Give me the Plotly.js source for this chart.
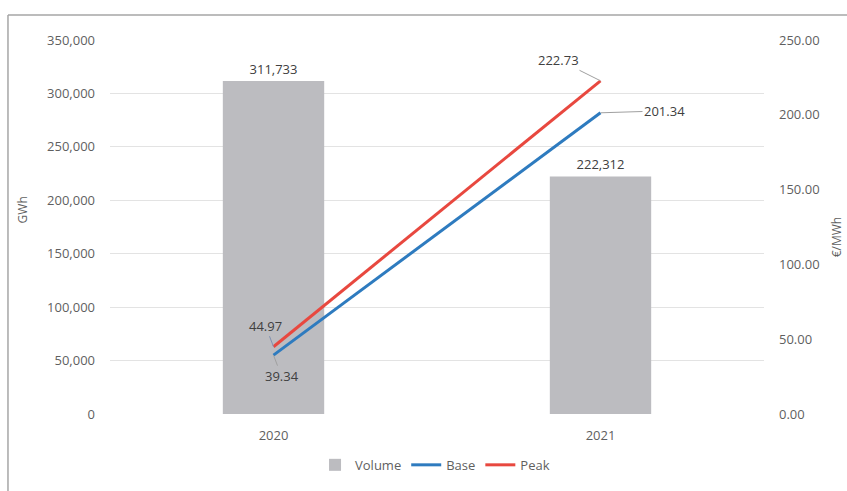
<!DOCTYPE html>
<html>
<head>
<meta charset="utf-8">
<script src="https://cdn.plot.ly/plotly-3.0.1.min.js"></script>
<style>html,body{margin:0;padding:0;background:#fff;}#chart{width:847px;height:491px;}</style>
</head>
<body>
<div id="chart"></div>
<script>
const years = ['2020', '2021'];
const volume = [311733, 222312];
const base = [39.34, 201.34];
const peak = [44.97, 222.73];
const volumeLabels = ['311,733', '222,312'];

const fontFam = '"Open Sans", "Noto Sans", "DejaVu Sans", sans-serif';
const axisColor = '#5f5f5f';
const fs = 13;

const traces = [
  {type: 'bar', name: 'Volume', x: years, y: volume, marker: {color: '#bcbcc0'},
   text: volumeLabels, textposition: 'outside', cliponaxis: false,
   textfont: {family: fontFam, size: fs, color: '#404040'}, hoverinfo: 'none'},
  {type: 'scatter', mode: 'lines', name: 'Base', x: years, y: base, yaxis: 'y2',
   line: {color: '#2e7bbf', width: 3}},
  {type: 'scatter', mode: 'lines', name: 'Peak', x: years, y: peak, yaxis: 'y2',
   line: {color: '#e8483f', width: 3}}
];

const annFont = {family: fontFam, size: fs, color: '#404040'};
const titleFont = {family: fontFam, size: 12, color: axisColor};
// category index positions (0 = first year, 1 = second year)
const annotations = [
  {x: 1, y: peak[1], xref: 'x', yref: 'y2', text: peak[1].toFixed(2), showarrow: true,
   arrowhead: 0, arrowwidth: 1, arrowcolor: '#a0a0a0', ax: -42, ay: -21, font: annFont},
  {x: 1, y: base[1], xref: 'x', yref: 'y2', text: base[1].toFixed(2), showarrow: true,
   arrowhead: 0, arrowwidth: 1, arrowcolor: '#a0a0a0', ax: 64, ay: -2, font: annFont},
  {x: 0, y: peak[0], xref: 'x', yref: 'y2', text: peak[0].toFixed(2), showarrow: true,
   arrowhead: 0, arrowwidth: 1, arrowcolor: '#8090b0', ax: -8, ay: -21, font: annFont},
  {x: 0, y: base[0], xref: 'x', yref: 'y2', text: base[0].toFixed(2), showarrow: true,
   arrowhead: 0, arrowwidth: 1, arrowcolor: '#a0a0a0', ax: 8, ay: 21, font: annFont},
  {x: -0.1346, y: 0.547, xref: 'paper', yref: 'paper', text: 'GWh', showarrow: false,
   textangle: -90, font: titleFont, xanchor: 'center', yanchor: 'middle'},
  {x: 1.110, y: 0.475, xref: 'paper', yref: 'paper', text: '€/MWh', showarrow: false,
   textangle: -90, font: titleFont, xanchor: 'center', yanchor: 'middle'}
];

const layout = {
  width: 847, height: 491,
  margin: {l: 110, r: 83, t: 40, b: 76},
  paper_bgcolor: '#ffffff', plot_bgcolor: '#ffffff',
  font: {family: fontFam, size: fs, color: axisColor},
  bargap: 0.69,
  showlegend: true,
  legend: {orientation: 'h', x: 0.497, xanchor: 'center', y: -0.133, yanchor: 'middle',
           font: {family: fontFam, size: fs, color: axisColor}, itemwidth: 30, tracegroupgap: 0},
  xaxis: {type: 'category', range: [-0.5, 1.5], showgrid: false, zeroline: false, showline: false,
          ticks: '', ticklabelstandoff: 12, tickfont: {family: fontFam, size: fs, color: axisColor}},
  yaxis: {range: [0, 350000], dtick: 50000, tickformat: ',d', showgrid: true, gridcolor: '#e3e3e3', gridwidth: 1,
          zeroline: false, showline: false, ticks: '', ticklabelstandoff: 14,
          tickfont: {family: fontFam, size: fs, color: axisColor}},
  yaxis2: {overlaying: 'y', side: 'right', range: [0, 250], dtick: 50, tickformat: '.2f', showgrid: false,
           zeroline: false, showline: false, ticks: '', ticklabelstandoff: 14,
           tickfont: {family: fontFam, size: fs, color: axisColor}},
  annotations: annotations,
  shapes: [
    {type: 'line', xref: 'paper', yref: 'paper', x0: -0.156, x1: 1.2, y0: 1.067, y1: 1.067,
     line: {color: '#a6a6a6', width: 1.5}},
    {type: 'line', xref: 'paper', yref: 'paper', x0: -0.156, x1: -0.156, y0: -0.3, y1: 1.067,
     line: {color: '#a6a6a6', width: 1.5}}
  ]
};

Plotly.newPlot('chart', traces, layout, {displayModeBar: false, staticPlot: true});
</script>
</body>
</html>
